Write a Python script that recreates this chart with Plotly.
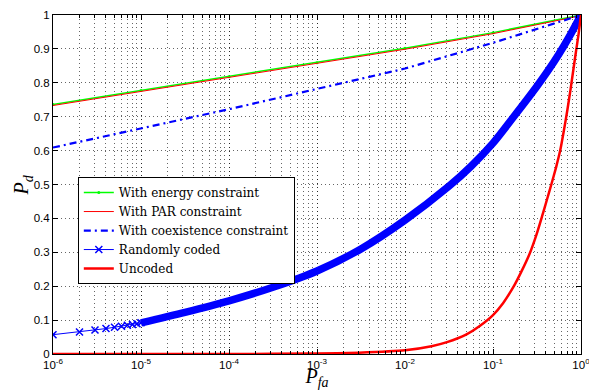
import plotly.graph_objects as go

# ---- data ----
pfa_lin = [1e-6, 1e-5, 1e-4, 1e-3, 1e-2, 1e-1, 1.0]
pd_energy = [0.736, 0.777, 0.818, 0.859, 0.902, 0.948, 1.0]
pd_par = [0.733, 0.774, 0.815, 0.856, 0.899, 0.945, 0.998]
pd_coex = [0.609, 0.665, 0.722, 0.782, 0.842, 0.918, 1.0]

pfa_rand_markers = [1e-6, 2e-6, 3e-6, 4e-6, 5e-6, 6e-6, 7e-6, 8e-6, 9e-6, 1e-5]
pd_rand_markers = [0.057, 0.065, 0.071, 0.075, 0.079, 0.082, 0.085, 0.087, 0.089, 0.092]

pfa_rand_band = [1e-5, 3.16e-5, 1e-4, 3.16e-4, 1e-3, 3.16e-3, 1e-2, 3.16e-2, 0.056, 0.1,
                 0.178, 0.316, 0.42, 0.562, 0.75, 1.0]
pd_rand_band = [0.092, 0.123, 0.157, 0.197, 0.245, 0.310, 0.395, 0.495, 0.553, 0.622,
                0.705, 0.790, 0.835, 0.885, 0.940, 1.0]

pfa_uncoded = [1e-6, 1e-5, 1e-4, 1e-3, 3e-3, 1e-2, 2e-2, 3e-2, 5e-2, 0.07, 0.1, 0.13,
               0.17, 0.21, 0.26, 0.31, 0.36, 0.41, 0.46, 0.52, 0.58, 0.64, 0.70,
               0.76, 0.82, 0.88, 0.94, 1.0]
pd_uncoded = [0.0, 0.0, 0.0001, 0.0012, 0.004, 0.011, 0.023, 0.035, 0.058, 0.082, 0.115, 0.150,
              0.197, 0.243, 0.295, 0.350, 0.405, 0.455, 0.500, 0.550, 0.600, 0.660, 0.720,
              0.780, 0.840, 0.895, 0.945, 1.0]

x_tickvals = [1e-6, 1e-5, 1e-4, 1e-3, 1e-2, 1e-1, 1]
x_ticktext = ["10<sup>-6</sup>", "10<sup>-5</sup>", "10<sup>-4</sup>", "10<sup>-3</sup>",
              "10<sup>-2</sup>", "10<sup>-1</sup>", "10<sup>0</sup>"]
y_tickvals = [0, 0.1, 0.2, 0.3, 0.4, 0.5, 0.6, 0.7, 0.8, 0.9, 1]
y_ticktext = ["0", "0.1", "0.2", "0.3", "0.4", "0.5", "0.6", "0.7", "0.8", "0.9", "1"]

fig = go.Figure()

fig.add_trace(go.Scatter(x=pfa_lin, y=pd_energy, mode="lines+markers",
                         name="With energy constraint",
                         line=dict(color="#00ff00", width=1.5),
                         marker=dict(size=3, color="#00ff00")))
fig.add_trace(go.Scatter(x=pfa_lin, y=pd_par, mode="lines",
                         name="With PAR constraint",
                         line=dict(color="#ff0000", width=1)))
fig.add_trace(go.Scatter(x=pfa_lin, y=pd_coex, mode="lines",
                         name="With coexistence constraint",
                         line=dict(color="#0000ff", width=2.2, dash="7px,4px,2px,4px")))
fig.add_trace(go.Scatter(x=pfa_rand_markers, y=pd_rand_markers, mode="lines+markers",
                         name="Randomly coded",
                         line=dict(color="#0000ff", width=1),
                         marker=dict(symbol="x-thin", size=7, color="#0000ff",
                                     line=dict(color="#0000ff", width=1.5))))
fig.add_trace(go.Scatter(x=pfa_rand_band, y=pd_rand_band, mode="lines",
                         showlegend=False,
                         line=dict(color="#0000ff", width=7.5, shape="spline", smoothing=0.8)))
fig.add_trace(go.Scatter(x=pfa_uncoded, y=pd_uncoded, mode="lines",
                         name="Uncoded",
                         line=dict(color="#ff0000", width=2.5, shape="spline", smoothing=0.6)))

grid_color = "rgba(0,0,0,0.6)"
grid_dash = "1px,3px"
tickfont = dict(family="Liberation Sans", size=11.5, color="black")
serif = "Liberation Serif"

fig.update_layout(
    width=589, height=390,
    margin=dict(l=53, r=8, t=15, b=36, autoexpand=False),
    paper_bgcolor="white", plot_bgcolor="white",
    showlegend=True,
    legend=dict(x=0.047, y=0.522, xanchor="left", yanchor="top",
                bgcolor="white", bordercolor="black", borderwidth=1,
                font=dict(family="DejaVu Serif", size=12, color="black"),
                tracegroupgap=0, itemwidth=30),
    xaxis=dict(type="log", range=[-6, 0], automargin=False,
               tickvals=x_tickvals, ticktext=x_ticktext,
               tickfont=tickfont, ticklabeloverflow="allow",
               ticks="inside", ticklen=5, tickcolor="black",
               showline=True, linecolor="black", linewidth=1, mirror="ticks",
               showgrid=True, gridcolor=grid_color, griddash=grid_dash, gridwidth=1,
               minor=dict(dtick="D1", showgrid=True, gridcolor=grid_color, griddash=grid_dash,
                          ticks="inside", ticklen=3, tickcolor="black"),
               zeroline=False,
               title=dict(text="<i>P<sub>fa</sub></i>", standoff=7,
                          font=dict(family=serif, size=20, color="black"))),
    yaxis=dict(range=[0, 1], automargin=False,
               tickvals=y_tickvals, ticktext=y_ticktext,
               tickfont=tickfont,
               ticks="inside", ticklen=5, tickcolor="black",
               showline=True, linecolor="black", linewidth=1, mirror="ticks",
               showgrid=True, gridcolor=grid_color, griddash=grid_dash, gridwidth=1,
               zeroline=False),
    annotations=[dict(text="<i>P<sub>d</sub></i>", xref="paper", yref="paper",
                      x=-0.057, y=0.5, xanchor="center", yanchor="middle",
                      textangle=-90, showarrow=False,
                      font=dict(family=serif, size=20, color="black"))],
)

fig.write_html("out.html", config={"displayModeBar": False},
               post_script="document.body.style.margin='0px';")
